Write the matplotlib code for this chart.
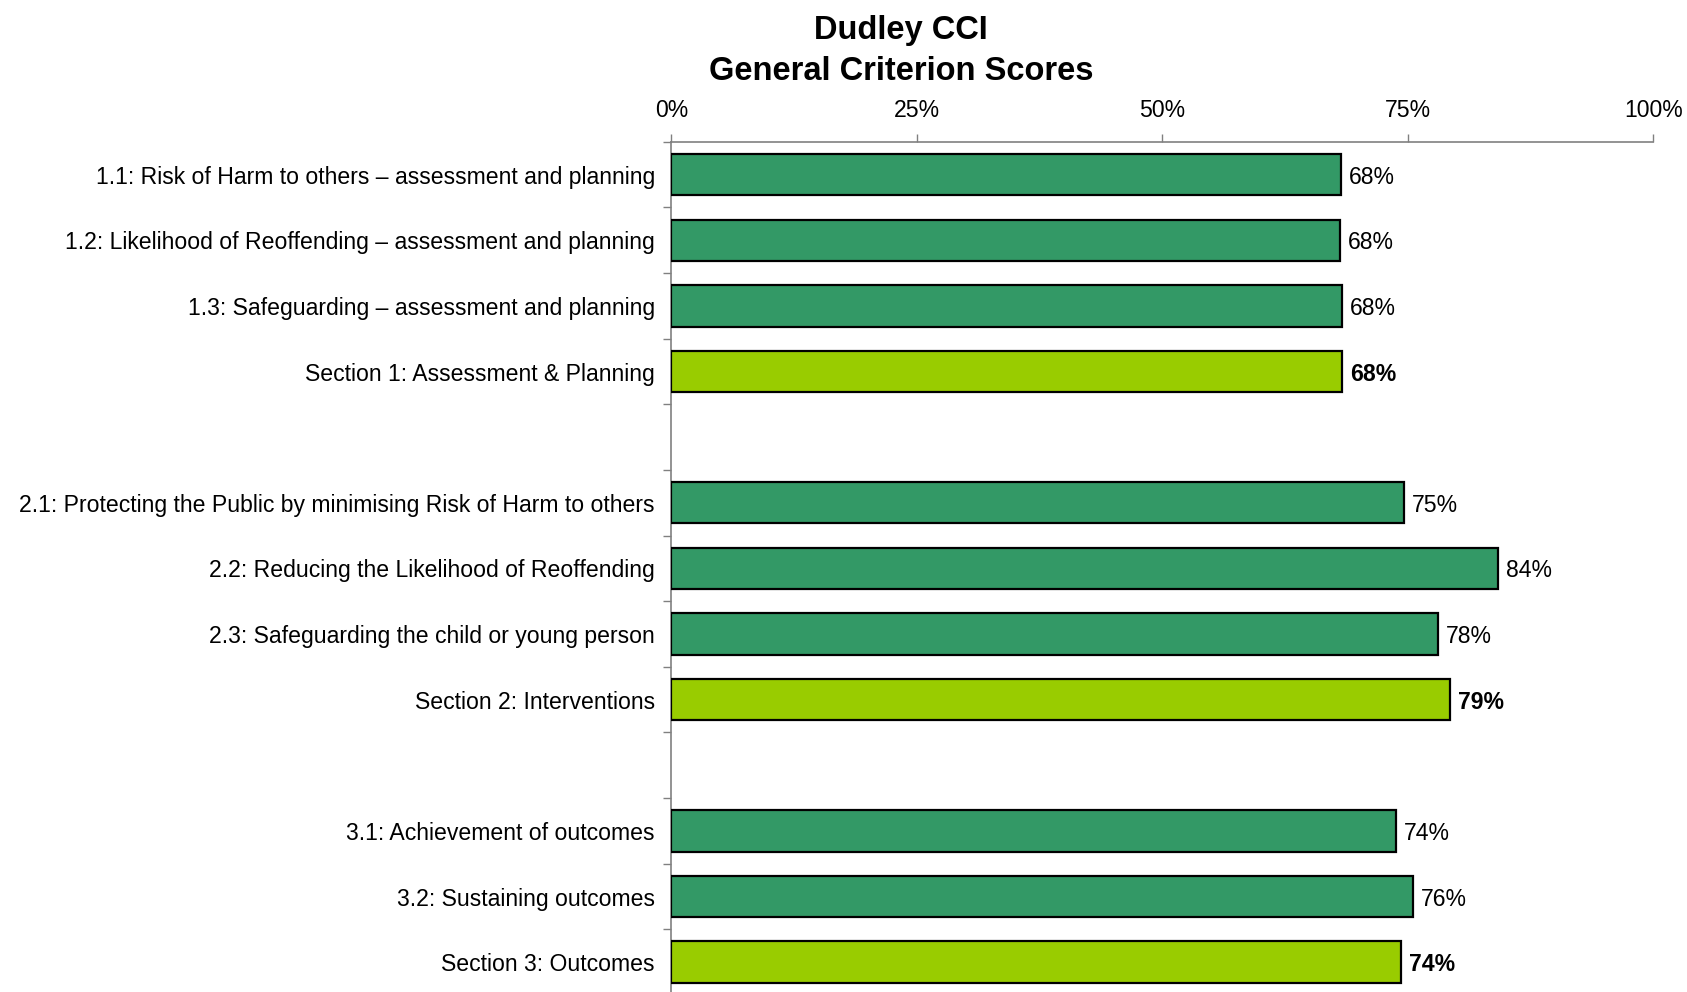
import numpy as np
import matplotlib.pyplot as plt

plt.rcParams['font.family'] = ['Liberation Sans', 'DejaVu Sans']

# categories top to bottom, '' = empty gap row
labels = [
    '1.1: Risk of Harm to others \u2013 assessment and planning',
    '1.2: Likelihood of Reoffending \u2013 assessment and planning',
    '1.3: Safeguarding \u2013 assessment and planning',
    'Section 1: Assessment & Planning',
    '',
    '2.1: Protecting the Public by minimising Risk of Harm to others',
    '2.2: Reducing the Likelihood of Reoffending',
    '2.3: Safeguarding the child or young person',
    'Section 2: Interventions',
    '',
    '3.1: Achievement of outcomes',
    '3.2: Sustaining outcomes',
    'Section 3: Outcomes',
]
scores = [68.2, 68.1, 68.3, 68.3, None, 74.6, 84.2, 78.1, 79.3, None, 73.8, 75.5, 74.3]
is_section = [False, False, False, True, False, False, False, False, True, False, False, False, True]

sub_color = '#339966'
sec_color = '#99CC00'
fs = 16.6

fig = plt.figure(figsize=(16.87, 9.92), dpi=100)
ax = fig.add_axes([0.398, -0.003, 0.582, 0.860])

y = np.arange(len(labels))
for i, (v, sec) in enumerate(zip(scores, is_section)):
    if v is None:
        continue
    ax.barh(i, v, height=0.63, color=sec_color if sec else sub_color,
            edgecolor='black', linewidth=1.6, zorder=3)
    ax.text(v + 0.8, i, f'{round(v)}%', va='center_baseline', ha='left', fontsize=fs,
            fontweight='bold' if sec else 'normal')

ax.set_xlim(0, 100)
ax.set_ylim(len(labels) - 0.5, -0.5)

ax.xaxis.tick_top()
ax.set_xticks([0, 25, 50, 75, 100])
ax.set_xticklabels(['0%', '25%', '50%', '75%', '100%'], fontsize=fs)
ax.tick_params(axis='x', direction='out', length=6, width=1, color='#808080', pad=8)

ax.set_yticks(y)
ax.set_yticklabels(labels, fontsize=fs)
ax.set_yticks(np.arange(len(labels) + 1) - 0.5, minor=True)
ax.tick_params(axis='y', which='major', length=0, pad=12)
ax.tick_params(axis='y', which='minor', direction='out', length=6, width=1, color='#808080')

for s in ['right', 'bottom']:
    ax.spines[s].set_visible(False)
for s in ['top', 'left']:
    ax.spines[s].set_color('#808080')
    ax.spines[s].set_linewidth(1.2)

fig.text(0.534, 0.969, 'Dudley CCI', ha='center', va='center', fontsize=23.5, fontweight='bold')
fig.text(0.534, 0.928, 'General Criterion Scores', ha='center', va='center', fontsize=23.5, fontweight='bold')

fig.savefig('out.png', dpi=100)
